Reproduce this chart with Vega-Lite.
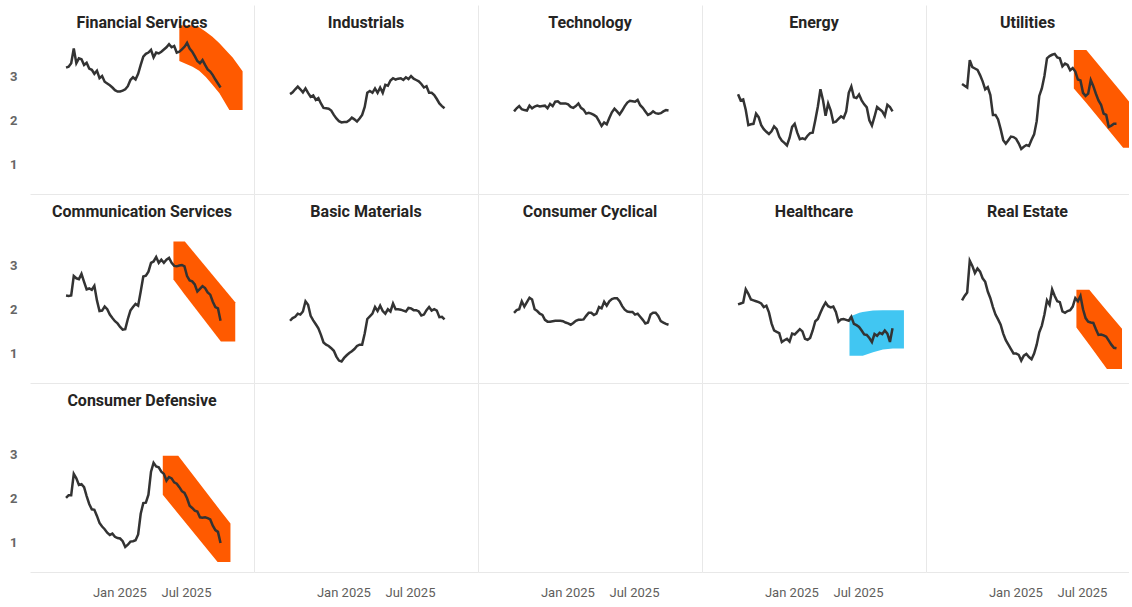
{
"$schema": "https://vega.github.io/schema/vega-lite/v6.json",
"background": "white",
"padding": {"left": 9, "top": 5, "right": 0, "bottom": 0},
"config": {
  "view": {"stroke": null},
  "concat": {"spacing": 0},
  "title": {"font": "Roboto", "fontSize": 16, "fontWeight": "bold", "color": "#252423", "anchor": "middle", "frame": "group", "offset": -26, "baseline": "bottom"},
  "axisX": {"labels": false, "ticks": false, "grid": false, "domainColor": "#E8E8E8", "labelFont": "Roboto", "labelFontSize": 13, "labelColor": "#605E5C", "labelPadding": 14},
  "axisY": {"labels": false, "ticks": false, "grid": false, "domainColor": "#E8E8E8", "labelFont": "Roboto", "labelFontSize": 13, "labelFontWeight": "bold", "labelColor": "#666666", "labelPadding": 13}
},
"datasets": {
"bands": [
{"sector":"Financial Services","date":"2025-06-13","low":3.34,"high":4.15},
{"sector":"Financial Services","date":"2025-07-19","low":3.21,"high":4.14},
{"sector":"Financial Services","date":"2025-08-06","low":3.12,"high":4.10},
{"sector":"Financial Services","date":"2025-08-24","low":2.98,"high":4.00},
{"sector":"Financial Services","date":"2025-09-11","low":2.80,"high":3.89},
{"sector":"Financial Services","date":"2025-09-30","low":2.61,"high":3.74},
{"sector":"Financial Services","date":"2025-10-27","low":2.23,"high":3.50},
{"sector":"Financial Services","date":"2025-11-05","low":2.23,"high":3.42},
{"sector":"Financial Services","date":"2025-12-02","low":2.23,"high":3.11},
{"sector":"Utilities","date":"2025-06-09","low":2.72,"high":3.59},
{"sector":"Utilities","date":"2025-07-13","low":2.39,"high":3.59},
{"sector":"Utilities","date":"2025-10-21","low":1.38,"high":2.59},
{"sector":"Utilities","date":"2025-11-24","low":1.38,"high":2.24},
{"sector":"Communication Services","date":"2025-05-28","low":2.67,"high":3.53},
{"sector":"Communication Services","date":"2025-06-28","low":2.33,"high":3.53},
{"sector":"Communication Services","date":"2025-10-04","low":1.27,"high":2.55},
{"sector":"Communication Services","date":"2025-11-12","low":1.27,"high":2.16},
{"sector":"Healthcare","date":"2025-06-08","low":0.95,"high":1.83},
{"sector":"Healthcare","date":"2025-07-05","low":0.95,"high":1.92},
{"sector":"Healthcare","date":"2025-07-14","low":0.95,"high":1.94},
{"sector":"Healthcare","date":"2025-08-11","low":1.03,"high":1.97},
{"sector":"Healthcare","date":"2025-09-07","low":1.09,"high":1.98},
{"sector":"Healthcare","date":"2025-10-04","low":1.11,"high":1.98},
{"sector":"Healthcare","date":"2025-11-03","low":1.11,"high":1.98},
{"sector":"Real Estate","date":"2025-06-16","low":1.59,"high":2.44},
{"sector":"Real Estate","date":"2025-07-21","low":1.20,"high":2.44},
{"sector":"Real Estate","date":"2025-09-07","low":0.65,"high":1.96},
{"sector":"Real Estate","date":"2025-10-18","low":0.65,"high":1.56},
{"sector":"Consumer Defensive","date":"2025-04-29","low":2.08,"high":2.96},
{"sector":"Consumer Defensive","date":"2025-06-10","low":1.65,"high":2.96},
{"sector":"Consumer Defensive","date":"2025-09-25","low":0.56,"high":1.80},
{"sector":"Consumer Defensive","date":"2025-10-30","low":0.56,"high":1.43}
],
"series": [
{"sector":"Financial Services","date":"2024-08-09","value":3.19},
{"sector":"Financial Services","date":"2024-08-16","value":3.21},
{"sector":"Financial Services","date":"2024-08-23","value":3.29},
{"sector":"Financial Services","date":"2024-08-30","value":3.62},
{"sector":"Financial Services","date":"2024-09-06","value":3.29},
{"sector":"Financial Services","date":"2024-09-13","value":3.40},
{"sector":"Financial Services","date":"2024-09-20","value":3.38},
{"sector":"Financial Services","date":"2024-09-27","value":3.25},
{"sector":"Financial Services","date":"2024-10-04","value":3.30},
{"sector":"Financial Services","date":"2024-10-11","value":3.17},
{"sector":"Financial Services","date":"2024-10-18","value":3.14},
{"sector":"Financial Services","date":"2024-10-25","value":3.05},
{"sector":"Financial Services","date":"2024-11-01","value":3.12},
{"sector":"Financial Services","date":"2024-11-08","value":2.95},
{"sector":"Financial Services","date":"2024-11-15","value":3.00},
{"sector":"Financial Services","date":"2024-11-22","value":2.87},
{"sector":"Financial Services","date":"2024-11-29","value":2.83},
{"sector":"Financial Services","date":"2024-12-06","value":2.79},
{"sector":"Financial Services","date":"2024-12-13","value":2.74},
{"sector":"Financial Services","date":"2024-12-20","value":2.68},
{"sector":"Financial Services","date":"2024-12-27","value":2.65},
{"sector":"Financial Services","date":"2025-01-03","value":2.65},
{"sector":"Financial Services","date":"2025-01-10","value":2.67},
{"sector":"Financial Services","date":"2025-01-17","value":2.70},
{"sector":"Financial Services","date":"2025-01-24","value":2.77},
{"sector":"Financial Services","date":"2025-01-31","value":2.91},
{"sector":"Financial Services","date":"2025-02-07","value":2.97},
{"sector":"Financial Services","date":"2025-02-14","value":2.92},
{"sector":"Financial Services","date":"2025-02-21","value":3.05},
{"sector":"Financial Services","date":"2025-02-28","value":3.25},
{"sector":"Financial Services","date":"2025-03-07","value":3.44},
{"sector":"Financial Services","date":"2025-03-14","value":3.50},
{"sector":"Financial Services","date":"2025-03-21","value":3.53},
{"sector":"Financial Services","date":"2025-03-28","value":3.59},
{"sector":"Financial Services","date":"2025-04-04","value":3.42},
{"sector":"Financial Services","date":"2025-04-11","value":3.53},
{"sector":"Financial Services","date":"2025-04-18","value":3.51},
{"sector":"Financial Services","date":"2025-04-25","value":3.55},
{"sector":"Financial Services","date":"2025-05-02","value":3.60},
{"sector":"Financial Services","date":"2025-05-09","value":3.65},
{"sector":"Financial Services","date":"2025-05-16","value":3.72},
{"sector":"Financial Services","date":"2025-05-23","value":3.65},
{"sector":"Financial Services","date":"2025-05-30","value":3.68},
{"sector":"Financial Services","date":"2025-06-06","value":3.53},
{"sector":"Financial Services","date":"2025-06-13","value":3.55},
{"sector":"Financial Services","date":"2025-06-20","value":3.60},
{"sector":"Financial Services","date":"2025-06-27","value":3.66},
{"sector":"Financial Services","date":"2025-07-04","value":3.75},
{"sector":"Financial Services","date":"2025-07-11","value":3.62},
{"sector":"Financial Services","date":"2025-07-18","value":3.55},
{"sector":"Financial Services","date":"2025-07-25","value":3.45},
{"sector":"Financial Services","date":"2025-08-01","value":3.34},
{"sector":"Financial Services","date":"2025-08-08","value":3.29},
{"sector":"Financial Services","date":"2025-08-15","value":3.36},
{"sector":"Financial Services","date":"2025-08-22","value":3.25},
{"sector":"Financial Services","date":"2025-08-29","value":3.15},
{"sector":"Financial Services","date":"2025-09-05","value":3.10},
{"sector":"Financial Services","date":"2025-09-12","value":3.02},
{"sector":"Financial Services","date":"2025-09-19","value":2.92},
{"sector":"Financial Services","date":"2025-09-26","value":2.83},
{"sector":"Financial Services","date":"2025-10-03","value":2.74},
{"sector":"Industrials","date":"2024-08-09","value":2.59},
{"sector":"Industrials","date":"2024-08-16","value":2.63},
{"sector":"Industrials","date":"2024-08-23","value":2.70},
{"sector":"Industrials","date":"2024-08-30","value":2.76},
{"sector":"Industrials","date":"2024-09-06","value":2.70},
{"sector":"Industrials","date":"2024-09-13","value":2.63},
{"sector":"Industrials","date":"2024-09-20","value":2.72},
{"sector":"Industrials","date":"2024-09-27","value":2.62},
{"sector":"Industrials","date":"2024-10-04","value":2.53},
{"sector":"Industrials","date":"2024-10-11","value":2.56},
{"sector":"Industrials","date":"2024-10-18","value":2.46},
{"sector":"Industrials","date":"2024-10-25","value":2.50},
{"sector":"Industrials","date":"2024-11-01","value":2.38},
{"sector":"Industrials","date":"2024-11-08","value":2.28},
{"sector":"Industrials","date":"2024-11-15","value":2.27},
{"sector":"Industrials","date":"2024-11-22","value":2.26},
{"sector":"Industrials","date":"2024-11-29","value":2.22},
{"sector":"Industrials","date":"2024-12-06","value":2.12},
{"sector":"Industrials","date":"2024-12-13","value":2.04},
{"sector":"Industrials","date":"2024-12-20","value":1.98},
{"sector":"Industrials","date":"2024-12-27","value":1.95},
{"sector":"Industrials","date":"2025-01-03","value":1.96},
{"sector":"Industrials","date":"2025-01-10","value":1.96},
{"sector":"Industrials","date":"2025-01-17","value":2.00},
{"sector":"Industrials","date":"2025-01-24","value":2.06},
{"sector":"Industrials","date":"2025-01-31","value":2.02},
{"sector":"Industrials","date":"2025-02-07","value":1.97},
{"sector":"Industrials","date":"2025-02-14","value":2.04},
{"sector":"Industrials","date":"2025-02-21","value":2.12},
{"sector":"Industrials","date":"2025-02-28","value":2.30},
{"sector":"Industrials","date":"2025-03-07","value":2.62},
{"sector":"Industrials","date":"2025-03-14","value":2.66},
{"sector":"Industrials","date":"2025-03-21","value":2.62},
{"sector":"Industrials","date":"2025-03-28","value":2.72},
{"sector":"Industrials","date":"2025-04-04","value":2.62},
{"sector":"Industrials","date":"2025-04-11","value":2.74},
{"sector":"Industrials","date":"2025-04-18","value":2.62},
{"sector":"Industrials","date":"2025-04-25","value":2.80},
{"sector":"Industrials","date":"2025-05-02","value":2.78},
{"sector":"Industrials","date":"2025-05-09","value":2.90},
{"sector":"Industrials","date":"2025-05-16","value":2.95},
{"sector":"Industrials","date":"2025-05-23","value":2.92},
{"sector":"Industrials","date":"2025-05-30","value":2.94},
{"sector":"Industrials","date":"2025-06-06","value":2.95},
{"sector":"Industrials","date":"2025-06-13","value":2.91},
{"sector":"Industrials","date":"2025-06-20","value":2.97},
{"sector":"Industrials","date":"2025-06-27","value":2.93},
{"sector":"Industrials","date":"2025-07-04","value":3.00},
{"sector":"Industrials","date":"2025-07-11","value":2.94},
{"sector":"Industrials","date":"2025-07-18","value":2.91},
{"sector":"Industrials","date":"2025-07-25","value":2.88},
{"sector":"Industrials","date":"2025-08-01","value":2.82},
{"sector":"Industrials","date":"2025-08-08","value":2.74},
{"sector":"Industrials","date":"2025-08-15","value":2.77},
{"sector":"Industrials","date":"2025-08-22","value":2.62},
{"sector":"Industrials","date":"2025-08-29","value":2.62},
{"sector":"Industrials","date":"2025-09-05","value":2.57},
{"sector":"Industrials","date":"2025-09-12","value":2.48},
{"sector":"Industrials","date":"2025-09-19","value":2.38},
{"sector":"Industrials","date":"2025-09-26","value":2.32},
{"sector":"Industrials","date":"2025-10-03","value":2.27},
{"sector":"Technology","date":"2024-08-09","value":2.20},
{"sector":"Technology","date":"2024-08-16","value":2.27},
{"sector":"Technology","date":"2024-08-23","value":2.32},
{"sector":"Technology","date":"2024-08-30","value":2.25},
{"sector":"Technology","date":"2024-09-06","value":2.23},
{"sector":"Technology","date":"2024-09-13","value":2.22},
{"sector":"Technology","date":"2024-09-20","value":2.33},
{"sector":"Technology","date":"2024-09-27","value":2.27},
{"sector":"Technology","date":"2024-10-04","value":2.31},
{"sector":"Technology","date":"2024-10-11","value":2.33},
{"sector":"Technology","date":"2024-10-18","value":2.31},
{"sector":"Technology","date":"2024-10-25","value":2.32},
{"sector":"Technology","date":"2024-11-01","value":2.33},
{"sector":"Technology","date":"2024-11-08","value":2.27},
{"sector":"Technology","date":"2024-11-15","value":2.37},
{"sector":"Technology","date":"2024-11-22","value":2.32},
{"sector":"Technology","date":"2024-11-29","value":2.42},
{"sector":"Technology","date":"2024-12-06","value":2.43},
{"sector":"Technology","date":"2024-12-13","value":2.38},
{"sector":"Technology","date":"2024-12-20","value":2.38},
{"sector":"Technology","date":"2024-12-27","value":2.38},
{"sector":"Technology","date":"2025-01-03","value":2.36},
{"sector":"Technology","date":"2025-01-10","value":2.30},
{"sector":"Technology","date":"2025-01-17","value":2.28},
{"sector":"Technology","date":"2025-01-24","value":2.32},
{"sector":"Technology","date":"2025-01-31","value":2.38},
{"sector":"Technology","date":"2025-02-07","value":2.28},
{"sector":"Technology","date":"2025-02-14","value":2.24},
{"sector":"Technology","date":"2025-02-21","value":2.15},
{"sector":"Technology","date":"2025-02-28","value":2.17},
{"sector":"Technology","date":"2025-03-07","value":2.15},
{"sector":"Technology","date":"2025-03-14","value":2.12},
{"sector":"Technology","date":"2025-03-21","value":2.08},
{"sector":"Technology","date":"2025-03-28","value":1.98},
{"sector":"Technology","date":"2025-04-04","value":1.87},
{"sector":"Technology","date":"2025-04-11","value":1.95},
{"sector":"Technology","date":"2025-04-18","value":1.91},
{"sector":"Technology","date":"2025-04-25","value":2.05},
{"sector":"Technology","date":"2025-05-02","value":2.18},
{"sector":"Technology","date":"2025-05-09","value":2.26},
{"sector":"Technology","date":"2025-05-16","value":2.20},
{"sector":"Technology","date":"2025-05-23","value":2.13},
{"sector":"Technology","date":"2025-05-30","value":2.22},
{"sector":"Technology","date":"2025-06-06","value":2.32},
{"sector":"Technology","date":"2025-06-13","value":2.40},
{"sector":"Technology","date":"2025-06-20","value":2.44},
{"sector":"Technology","date":"2025-06-27","value":2.43},
{"sector":"Technology","date":"2025-07-04","value":2.42},
{"sector":"Technology","date":"2025-07-11","value":2.46},
{"sector":"Technology","date":"2025-07-18","value":2.34},
{"sector":"Technology","date":"2025-07-25","value":2.28},
{"sector":"Technology","date":"2025-08-01","value":2.20},
{"sector":"Technology","date":"2025-08-08","value":2.12},
{"sector":"Technology","date":"2025-08-15","value":2.15},
{"sector":"Technology","date":"2025-08-22","value":2.20},
{"sector":"Technology","date":"2025-08-29","value":2.16},
{"sector":"Technology","date":"2025-09-05","value":2.15},
{"sector":"Technology","date":"2025-09-12","value":2.16},
{"sector":"Technology","date":"2025-09-19","value":2.20},
{"sector":"Technology","date":"2025-09-26","value":2.23},
{"sector":"Technology","date":"2025-10-03","value":2.22},
{"sector":"Energy","date":"2024-08-09","value":2.59},
{"sector":"Energy","date":"2024-08-16","value":2.45},
{"sector":"Energy","date":"2024-08-23","value":2.47},
{"sector":"Energy","date":"2024-08-30","value":2.23},
{"sector":"Energy","date":"2024-09-06","value":1.89},
{"sector":"Energy","date":"2024-09-13","value":1.91},
{"sector":"Energy","date":"2024-09-20","value":1.92},
{"sector":"Energy","date":"2024-09-27","value":2.15},
{"sector":"Energy","date":"2024-10-04","value":2.07},
{"sector":"Energy","date":"2024-10-11","value":1.89},
{"sector":"Energy","date":"2024-10-18","value":1.80},
{"sector":"Energy","date":"2024-10-25","value":1.74},
{"sector":"Energy","date":"2024-11-01","value":1.69},
{"sector":"Energy","date":"2024-11-08","value":1.75},
{"sector":"Energy","date":"2024-11-15","value":1.86},
{"sector":"Energy","date":"2024-11-22","value":1.80},
{"sector":"Energy","date":"2024-11-29","value":1.63},
{"sector":"Energy","date":"2024-12-06","value":1.54},
{"sector":"Energy","date":"2024-12-13","value":1.49},
{"sector":"Energy","date":"2024-12-20","value":1.43},
{"sector":"Energy","date":"2024-12-27","value":1.60},
{"sector":"Energy","date":"2025-01-03","value":1.85},
{"sector":"Energy","date":"2025-01-10","value":1.92},
{"sector":"Energy","date":"2025-01-17","value":1.72},
{"sector":"Energy","date":"2025-01-24","value":1.57},
{"sector":"Energy","date":"2025-01-31","value":1.59},
{"sector":"Energy","date":"2025-02-07","value":1.57},
{"sector":"Energy","date":"2025-02-14","value":1.65},
{"sector":"Energy","date":"2025-02-21","value":1.71},
{"sector":"Energy","date":"2025-02-28","value":1.72},
{"sector":"Energy","date":"2025-03-07","value":2.00},
{"sector":"Energy","date":"2025-03-14","value":2.31},
{"sector":"Energy","date":"2025-03-21","value":2.70},
{"sector":"Energy","date":"2025-03-28","value":2.45},
{"sector":"Energy","date":"2025-04-04","value":2.10},
{"sector":"Energy","date":"2025-04-11","value":2.38},
{"sector":"Energy","date":"2025-04-18","value":2.22},
{"sector":"Energy","date":"2025-04-25","value":1.95},
{"sector":"Energy","date":"2025-05-02","value":1.97},
{"sector":"Energy","date":"2025-05-09","value":2.03},
{"sector":"Energy","date":"2025-05-16","value":2.09},
{"sector":"Energy","date":"2025-05-23","value":2.05},
{"sector":"Energy","date":"2025-05-30","value":2.20},
{"sector":"Energy","date":"2025-06-06","value":2.62},
{"sector":"Energy","date":"2025-06-13","value":2.76},
{"sector":"Energy","date":"2025-06-20","value":2.52},
{"sector":"Energy","date":"2025-06-27","value":2.50},
{"sector":"Energy","date":"2025-07-04","value":2.58},
{"sector":"Energy","date":"2025-07-11","value":2.45},
{"sector":"Energy","date":"2025-07-18","value":2.36},
{"sector":"Energy","date":"2025-07-25","value":2.29},
{"sector":"Energy","date":"2025-08-01","value":2.00},
{"sector":"Energy","date":"2025-08-08","value":1.88},
{"sector":"Energy","date":"2025-08-15","value":2.08},
{"sector":"Energy","date":"2025-08-22","value":2.30},
{"sector":"Energy","date":"2025-08-29","value":2.25},
{"sector":"Energy","date":"2025-09-05","value":2.20},
{"sector":"Energy","date":"2025-09-12","value":2.10},
{"sector":"Energy","date":"2025-09-19","value":2.35},
{"sector":"Energy","date":"2025-09-26","value":2.30},
{"sector":"Energy","date":"2025-10-03","value":2.20},
{"sector":"Utilities","date":"2024-08-09","value":2.82},
{"sector":"Utilities","date":"2024-08-16","value":2.78},
{"sector":"Utilities","date":"2024-08-23","value":2.74},
{"sector":"Utilities","date":"2024-08-30","value":3.36},
{"sector":"Utilities","date":"2024-09-06","value":3.20},
{"sector":"Utilities","date":"2024-09-13","value":3.17},
{"sector":"Utilities","date":"2024-09-20","value":3.14},
{"sector":"Utilities","date":"2024-09-27","value":3.02},
{"sector":"Utilities","date":"2024-10-04","value":2.88},
{"sector":"Utilities","date":"2024-10-11","value":2.70},
{"sector":"Utilities","date":"2024-10-18","value":2.75},
{"sector":"Utilities","date":"2024-10-25","value":2.57},
{"sector":"Utilities","date":"2024-11-01","value":2.12},
{"sector":"Utilities","date":"2024-11-08","value":2.12},
{"sector":"Utilities","date":"2024-11-15","value":2.02},
{"sector":"Utilities","date":"2024-11-22","value":1.80},
{"sector":"Utilities","date":"2024-11-29","value":1.55},
{"sector":"Utilities","date":"2024-12-06","value":1.47},
{"sector":"Utilities","date":"2024-12-13","value":1.55},
{"sector":"Utilities","date":"2024-12-20","value":1.63},
{"sector":"Utilities","date":"2024-12-27","value":1.62},
{"sector":"Utilities","date":"2025-01-03","value":1.58},
{"sector":"Utilities","date":"2025-01-10","value":1.48},
{"sector":"Utilities","date":"2025-01-17","value":1.35},
{"sector":"Utilities","date":"2025-01-24","value":1.40},
{"sector":"Utilities","date":"2025-01-31","value":1.44},
{"sector":"Utilities","date":"2025-02-07","value":1.42},
{"sector":"Utilities","date":"2025-02-14","value":1.56},
{"sector":"Utilities","date":"2025-02-21","value":1.68},
{"sector":"Utilities","date":"2025-02-28","value":1.98},
{"sector":"Utilities","date":"2025-03-07","value":2.55},
{"sector":"Utilities","date":"2025-03-14","value":2.72},
{"sector":"Utilities","date":"2025-03-21","value":3.00},
{"sector":"Utilities","date":"2025-03-28","value":3.40},
{"sector":"Utilities","date":"2025-04-04","value":3.45},
{"sector":"Utilities","date":"2025-04-11","value":3.48},
{"sector":"Utilities","date":"2025-04-18","value":3.50},
{"sector":"Utilities","date":"2025-04-25","value":3.42},
{"sector":"Utilities","date":"2025-05-02","value":3.40},
{"sector":"Utilities","date":"2025-05-09","value":3.22},
{"sector":"Utilities","date":"2025-05-16","value":3.28},
{"sector":"Utilities","date":"2025-05-23","value":3.25},
{"sector":"Utilities","date":"2025-05-30","value":3.13},
{"sector":"Utilities","date":"2025-06-06","value":3.18},
{"sector":"Utilities","date":"2025-06-13","value":3.10},
{"sector":"Utilities","date":"2025-06-20","value":2.92},
{"sector":"Utilities","date":"2025-06-27","value":2.90},
{"sector":"Utilities","date":"2025-07-04","value":2.62},
{"sector":"Utilities","date":"2025-07-11","value":2.55},
{"sector":"Utilities","date":"2025-07-18","value":2.60},
{"sector":"Utilities","date":"2025-07-25","value":2.91},
{"sector":"Utilities","date":"2025-08-01","value":2.77},
{"sector":"Utilities","date":"2025-08-08","value":2.60},
{"sector":"Utilities","date":"2025-08-15","value":2.45},
{"sector":"Utilities","date":"2025-08-22","value":2.35},
{"sector":"Utilities","date":"2025-08-29","value":2.15},
{"sector":"Utilities","date":"2025-09-05","value":2.12},
{"sector":"Utilities","date":"2025-09-12","value":1.85},
{"sector":"Utilities","date":"2025-09-19","value":1.88},
{"sector":"Utilities","date":"2025-09-26","value":1.92},
{"sector":"Utilities","date":"2025-10-03","value":1.92},
{"sector":"Communication Services","date":"2024-08-09","value":2.31},
{"sector":"Communication Services","date":"2024-08-16","value":2.30},
{"sector":"Communication Services","date":"2024-08-23","value":2.31},
{"sector":"Communication Services","date":"2024-08-30","value":2.75},
{"sector":"Communication Services","date":"2024-09-06","value":2.70},
{"sector":"Communication Services","date":"2024-09-13","value":2.68},
{"sector":"Communication Services","date":"2024-09-20","value":2.80},
{"sector":"Communication Services","date":"2024-09-27","value":2.62},
{"sector":"Communication Services","date":"2024-10-04","value":2.45},
{"sector":"Communication Services","date":"2024-10-11","value":2.47},
{"sector":"Communication Services","date":"2024-10-18","value":2.44},
{"sector":"Communication Services","date":"2024-10-25","value":2.53},
{"sector":"Communication Services","date":"2024-11-01","value":2.20},
{"sector":"Communication Services","date":"2024-11-08","value":1.96},
{"sector":"Communication Services","date":"2024-11-15","value":1.97},
{"sector":"Communication Services","date":"2024-11-22","value":2.06},
{"sector":"Communication Services","date":"2024-11-29","value":2.00},
{"sector":"Communication Services","date":"2024-12-06","value":1.88},
{"sector":"Communication Services","date":"2024-12-13","value":1.80},
{"sector":"Communication Services","date":"2024-12-20","value":1.73},
{"sector":"Communication Services","date":"2024-12-27","value":1.68},
{"sector":"Communication Services","date":"2025-01-03","value":1.60},
{"sector":"Communication Services","date":"2025-01-10","value":1.54},
{"sector":"Communication Services","date":"2025-01-17","value":1.55},
{"sector":"Communication Services","date":"2025-01-24","value":1.78},
{"sector":"Communication Services","date":"2025-01-31","value":1.97},
{"sector":"Communication Services","date":"2025-02-07","value":2.05},
{"sector":"Communication Services","date":"2025-02-14","value":2.12},
{"sector":"Communication Services","date":"2025-02-21","value":2.08},
{"sector":"Communication Services","date":"2025-02-28","value":2.40},
{"sector":"Communication Services","date":"2025-03-07","value":2.74},
{"sector":"Communication Services","date":"2025-03-14","value":2.76},
{"sector":"Communication Services","date":"2025-03-21","value":2.85},
{"sector":"Communication Services","date":"2025-03-28","value":3.05},
{"sector":"Communication Services","date":"2025-04-04","value":3.08},
{"sector":"Communication Services","date":"2025-04-11","value":3.18},
{"sector":"Communication Services","date":"2025-04-18","value":3.05},
{"sector":"Communication Services","date":"2025-04-25","value":3.12},
{"sector":"Communication Services","date":"2025-05-02","value":3.05},
{"sector":"Communication Services","date":"2025-05-09","value":3.12},
{"sector":"Communication Services","date":"2025-05-16","value":3.16},
{"sector":"Communication Services","date":"2025-05-23","value":3.05},
{"sector":"Communication Services","date":"2025-05-30","value":2.98},
{"sector":"Communication Services","date":"2025-06-06","value":2.97},
{"sector":"Communication Services","date":"2025-06-13","value":2.99},
{"sector":"Communication Services","date":"2025-06-20","value":3.00},
{"sector":"Communication Services","date":"2025-06-27","value":2.97},
{"sector":"Communication Services","date":"2025-07-04","value":2.75},
{"sector":"Communication Services","date":"2025-07-11","value":2.65},
{"sector":"Communication Services","date":"2025-07-18","value":2.63},
{"sector":"Communication Services","date":"2025-07-25","value":2.56},
{"sector":"Communication Services","date":"2025-08-01","value":2.40},
{"sector":"Communication Services","date":"2025-08-08","value":2.46},
{"sector":"Communication Services","date":"2025-08-15","value":2.52},
{"sector":"Communication Services","date":"2025-08-22","value":2.48},
{"sector":"Communication Services","date":"2025-08-29","value":2.38},
{"sector":"Communication Services","date":"2025-09-05","value":2.33},
{"sector":"Communication Services","date":"2025-09-12","value":2.17},
{"sector":"Communication Services","date":"2025-09-19","value":2.05},
{"sector":"Communication Services","date":"2025-09-26","value":2.02},
{"sector":"Communication Services","date":"2025-10-03","value":1.74},
{"sector":"Basic Materials","date":"2024-08-09","value":1.74},
{"sector":"Basic Materials","date":"2024-08-16","value":1.80},
{"sector":"Basic Materials","date":"2024-08-23","value":1.83},
{"sector":"Basic Materials","date":"2024-08-30","value":1.90},
{"sector":"Basic Materials","date":"2024-09-06","value":1.88},
{"sector":"Basic Materials","date":"2024-09-13","value":1.95},
{"sector":"Basic Materials","date":"2024-09-20","value":2.18},
{"sector":"Basic Materials","date":"2024-09-27","value":2.10},
{"sector":"Basic Materials","date":"2024-10-04","value":1.85},
{"sector":"Basic Materials","date":"2024-10-11","value":1.75},
{"sector":"Basic Materials","date":"2024-10-18","value":1.66},
{"sector":"Basic Materials","date":"2024-10-25","value":1.57},
{"sector":"Basic Materials","date":"2024-11-01","value":1.42},
{"sector":"Basic Materials","date":"2024-11-08","value":1.25},
{"sector":"Basic Materials","date":"2024-11-15","value":1.20},
{"sector":"Basic Materials","date":"2024-11-22","value":1.17},
{"sector":"Basic Materials","date":"2024-11-29","value":1.12},
{"sector":"Basic Materials","date":"2024-12-06","value":1.06},
{"sector":"Basic Materials","date":"2024-12-13","value":0.93},
{"sector":"Basic Materials","date":"2024-12-20","value":0.84},
{"sector":"Basic Materials","date":"2024-12-27","value":0.82},
{"sector":"Basic Materials","date":"2025-01-03","value":0.90},
{"sector":"Basic Materials","date":"2025-01-10","value":0.96},
{"sector":"Basic Materials","date":"2025-01-17","value":1.01},
{"sector":"Basic Materials","date":"2025-01-24","value":1.05},
{"sector":"Basic Materials","date":"2025-01-31","value":1.10},
{"sector":"Basic Materials","date":"2025-02-07","value":1.17},
{"sector":"Basic Materials","date":"2025-02-14","value":1.20},
{"sector":"Basic Materials","date":"2025-02-21","value":1.20},
{"sector":"Basic Materials","date":"2025-02-28","value":1.45},
{"sector":"Basic Materials","date":"2025-03-07","value":1.78},
{"sector":"Basic Materials","date":"2025-03-14","value":1.84},
{"sector":"Basic Materials","date":"2025-03-21","value":1.90},
{"sector":"Basic Materials","date":"2025-03-28","value":2.05},
{"sector":"Basic Materials","date":"2025-04-04","value":1.96},
{"sector":"Basic Materials","date":"2025-04-11","value":2.08},
{"sector":"Basic Materials","date":"2025-04-18","value":1.96},
{"sector":"Basic Materials","date":"2025-04-25","value":1.90},
{"sector":"Basic Materials","date":"2025-05-02","value":2.00},
{"sector":"Basic Materials","date":"2025-05-09","value":1.95},
{"sector":"Basic Materials","date":"2025-05-16","value":2.13},
{"sector":"Basic Materials","date":"2025-05-23","value":2.00},
{"sector":"Basic Materials","date":"2025-05-30","value":2.00},
{"sector":"Basic Materials","date":"2025-06-06","value":1.99},
{"sector":"Basic Materials","date":"2025-06-13","value":1.97},
{"sector":"Basic Materials","date":"2025-06-20","value":1.95},
{"sector":"Basic Materials","date":"2025-06-27","value":2.03},
{"sector":"Basic Materials","date":"2025-07-04","value":2.02},
{"sector":"Basic Materials","date":"2025-07-11","value":1.98},
{"sector":"Basic Materials","date":"2025-07-18","value":1.98},
{"sector":"Basic Materials","date":"2025-07-25","value":1.95},
{"sector":"Basic Materials","date":"2025-08-01","value":1.86},
{"sector":"Basic Materials","date":"2025-08-08","value":1.88},
{"sector":"Basic Materials","date":"2025-08-15","value":1.98},
{"sector":"Basic Materials","date":"2025-08-22","value":2.05},
{"sector":"Basic Materials","date":"2025-08-29","value":1.97},
{"sector":"Basic Materials","date":"2025-09-05","value":2.00},
{"sector":"Basic Materials","date":"2025-09-12","value":1.97},
{"sector":"Basic Materials","date":"2025-09-19","value":1.82},
{"sector":"Basic Materials","date":"2025-09-26","value":1.83},
{"sector":"Basic Materials","date":"2025-10-03","value":1.77},
{"sector":"Consumer Cyclical","date":"2024-08-09","value":1.92},
{"sector":"Consumer Cyclical","date":"2024-08-16","value":1.98},
{"sector":"Consumer Cyclical","date":"2024-08-23","value":2.00},
{"sector":"Consumer Cyclical","date":"2024-08-30","value":2.18},
{"sector":"Consumer Cyclical","date":"2024-09-06","value":2.06},
{"sector":"Consumer Cyclical","date":"2024-09-13","value":2.16},
{"sector":"Consumer Cyclical","date":"2024-09-20","value":2.26},
{"sector":"Consumer Cyclical","date":"2024-09-27","value":2.22},
{"sector":"Consumer Cyclical","date":"2024-10-04","value":2.00},
{"sector":"Consumer Cyclical","date":"2024-10-11","value":1.96},
{"sector":"Consumer Cyclical","date":"2024-10-18","value":1.90},
{"sector":"Consumer Cyclical","date":"2024-10-25","value":1.87},
{"sector":"Consumer Cyclical","date":"2024-11-01","value":1.76},
{"sector":"Consumer Cyclical","date":"2024-11-08","value":1.72},
{"sector":"Consumer Cyclical","date":"2024-11-15","value":1.72},
{"sector":"Consumer Cyclical","date":"2024-11-22","value":1.73},
{"sector":"Consumer Cyclical","date":"2024-11-29","value":1.74},
{"sector":"Consumer Cyclical","date":"2024-12-06","value":1.74},
{"sector":"Consumer Cyclical","date":"2024-12-13","value":1.74},
{"sector":"Consumer Cyclical","date":"2024-12-20","value":1.73},
{"sector":"Consumer Cyclical","date":"2024-12-27","value":1.70},
{"sector":"Consumer Cyclical","date":"2025-01-03","value":1.68},
{"sector":"Consumer Cyclical","date":"2025-01-10","value":1.65},
{"sector":"Consumer Cyclical","date":"2025-01-17","value":1.69},
{"sector":"Consumer Cyclical","date":"2025-01-24","value":1.74},
{"sector":"Consumer Cyclical","date":"2025-01-31","value":1.76},
{"sector":"Consumer Cyclical","date":"2025-02-07","value":1.76},
{"sector":"Consumer Cyclical","date":"2025-02-14","value":1.77},
{"sector":"Consumer Cyclical","date":"2025-02-21","value":1.85},
{"sector":"Consumer Cyclical","date":"2025-02-28","value":1.92},
{"sector":"Consumer Cyclical","date":"2025-03-07","value":1.92},
{"sector":"Consumer Cyclical","date":"2025-03-14","value":1.87},
{"sector":"Consumer Cyclical","date":"2025-03-21","value":1.90},
{"sector":"Consumer Cyclical","date":"2025-03-28","value":2.05},
{"sector":"Consumer Cyclical","date":"2025-04-04","value":2.02},
{"sector":"Consumer Cyclical","date":"2025-04-11","value":2.17},
{"sector":"Consumer Cyclical","date":"2025-04-18","value":2.08},
{"sector":"Consumer Cyclical","date":"2025-04-25","value":2.18},
{"sector":"Consumer Cyclical","date":"2025-05-02","value":2.23},
{"sector":"Consumer Cyclical","date":"2025-05-09","value":2.25},
{"sector":"Consumer Cyclical","date":"2025-05-16","value":2.25},
{"sector":"Consumer Cyclical","date":"2025-05-23","value":2.18},
{"sector":"Consumer Cyclical","date":"2025-05-30","value":2.07},
{"sector":"Consumer Cyclical","date":"2025-06-06","value":1.99},
{"sector":"Consumer Cyclical","date":"2025-06-13","value":1.95},
{"sector":"Consumer Cyclical","date":"2025-06-20","value":1.94},
{"sector":"Consumer Cyclical","date":"2025-06-27","value":1.94},
{"sector":"Consumer Cyclical","date":"2025-07-04","value":1.88},
{"sector":"Consumer Cyclical","date":"2025-07-11","value":1.90},
{"sector":"Consumer Cyclical","date":"2025-07-18","value":1.83},
{"sector":"Consumer Cyclical","date":"2025-07-25","value":1.76},
{"sector":"Consumer Cyclical","date":"2025-08-01","value":1.68},
{"sector":"Consumer Cyclical","date":"2025-08-08","value":1.70},
{"sector":"Consumer Cyclical","date":"2025-08-15","value":1.88},
{"sector":"Consumer Cyclical","date":"2025-08-22","value":1.92},
{"sector":"Consumer Cyclical","date":"2025-08-29","value":1.92},
{"sector":"Consumer Cyclical","date":"2025-09-05","value":1.85},
{"sector":"Consumer Cyclical","date":"2025-09-12","value":1.73},
{"sector":"Consumer Cyclical","date":"2025-09-19","value":1.70},
{"sector":"Consumer Cyclical","date":"2025-09-26","value":1.67},
{"sector":"Consumer Cyclical","date":"2025-10-03","value":1.65},
{"sector":"Healthcare","date":"2024-08-09","value":2.11},
{"sector":"Healthcare","date":"2024-08-16","value":2.13},
{"sector":"Healthcare","date":"2024-08-23","value":2.15},
{"sector":"Healthcare","date":"2024-08-30","value":2.45},
{"sector":"Healthcare","date":"2024-09-06","value":2.35},
{"sector":"Healthcare","date":"2024-09-13","value":2.22},
{"sector":"Healthcare","date":"2024-09-20","value":2.20},
{"sector":"Healthcare","date":"2024-09-27","value":2.18},
{"sector":"Healthcare","date":"2024-10-04","value":2.16},
{"sector":"Healthcare","date":"2024-10-11","value":2.13},
{"sector":"Healthcare","date":"2024-10-18","value":2.05},
{"sector":"Healthcare","date":"2024-10-25","value":2.08},
{"sector":"Healthcare","date":"2024-11-01","value":1.93},
{"sector":"Healthcare","date":"2024-11-08","value":1.68},
{"sector":"Healthcare","date":"2024-11-15","value":1.52},
{"sector":"Healthcare","date":"2024-11-22","value":1.49},
{"sector":"Healthcare","date":"2024-11-29","value":1.46},
{"sector":"Healthcare","date":"2024-12-06","value":1.26},
{"sector":"Healthcare","date":"2024-12-13","value":1.30},
{"sector":"Healthcare","date":"2024-12-20","value":1.33},
{"sector":"Healthcare","date":"2024-12-27","value":1.27},
{"sector":"Healthcare","date":"2025-01-03","value":1.45},
{"sector":"Healthcare","date":"2025-01-10","value":1.43},
{"sector":"Healthcare","date":"2025-01-17","value":1.49},
{"sector":"Healthcare","date":"2025-01-24","value":1.55},
{"sector":"Healthcare","date":"2025-01-31","value":1.50},
{"sector":"Healthcare","date":"2025-02-07","value":1.33},
{"sector":"Healthcare","date":"2025-02-14","value":1.31},
{"sector":"Healthcare","date":"2025-02-21","value":1.35},
{"sector":"Healthcare","date":"2025-02-28","value":1.52},
{"sector":"Healthcare","date":"2025-03-07","value":1.73},
{"sector":"Healthcare","date":"2025-03-14","value":1.78},
{"sector":"Healthcare","date":"2025-03-21","value":1.92},
{"sector":"Healthcare","date":"2025-03-28","value":2.05},
{"sector":"Healthcare","date":"2025-04-04","value":2.15},
{"sector":"Healthcare","date":"2025-04-11","value":2.07},
{"sector":"Healthcare","date":"2025-04-18","value":2.04},
{"sector":"Healthcare","date":"2025-04-25","value":2.06},
{"sector":"Healthcare","date":"2025-05-02","value":1.94},
{"sector":"Healthcare","date":"2025-05-09","value":1.72},
{"sector":"Healthcare","date":"2025-05-16","value":1.77},
{"sector":"Healthcare","date":"2025-05-23","value":1.78},
{"sector":"Healthcare","date":"2025-05-30","value":1.76},
{"sector":"Healthcare","date":"2025-06-06","value":1.74},
{"sector":"Healthcare","date":"2025-06-13","value":1.83},
{"sector":"Healthcare","date":"2025-06-20","value":1.67},
{"sector":"Healthcare","date":"2025-06-27","value":1.64},
{"sector":"Healthcare","date":"2025-07-04","value":1.60},
{"sector":"Healthcare","date":"2025-07-11","value":1.52},
{"sector":"Healthcare","date":"2025-07-18","value":1.43},
{"sector":"Healthcare","date":"2025-07-25","value":1.42},
{"sector":"Healthcare","date":"2025-08-01","value":1.35},
{"sector":"Healthcare","date":"2025-08-08","value":1.26},
{"sector":"Healthcare","date":"2025-08-15","value":1.44},
{"sector":"Healthcare","date":"2025-08-22","value":1.40},
{"sector":"Healthcare","date":"2025-08-29","value":1.47},
{"sector":"Healthcare","date":"2025-09-05","value":1.44},
{"sector":"Healthcare","date":"2025-09-12","value":1.52},
{"sector":"Healthcare","date":"2025-09-19","value":1.45},
{"sector":"Healthcare","date":"2025-09-26","value":1.26},
{"sector":"Healthcare","date":"2025-10-03","value":1.57},
{"sector":"Real Estate","date":"2024-08-09","value":2.20},
{"sector":"Real Estate","date":"2024-08-16","value":2.30},
{"sector":"Real Estate","date":"2024-08-23","value":2.38},
{"sector":"Real Estate","date":"2024-08-30","value":3.10},
{"sector":"Real Estate","date":"2024-09-06","value":2.98},
{"sector":"Real Estate","date":"2024-09-13","value":2.82},
{"sector":"Real Estate","date":"2024-09-20","value":2.92},
{"sector":"Real Estate","date":"2024-09-27","value":2.85},
{"sector":"Real Estate","date":"2024-10-04","value":2.70},
{"sector":"Real Estate","date":"2024-10-11","value":2.62},
{"sector":"Real Estate","date":"2024-10-18","value":2.40},
{"sector":"Real Estate","date":"2024-10-25","value":2.25},
{"sector":"Real Estate","date":"2024-11-01","value":2.05},
{"sector":"Real Estate","date":"2024-11-08","value":1.88},
{"sector":"Real Estate","date":"2024-11-15","value":1.77},
{"sector":"Real Estate","date":"2024-11-22","value":1.65},
{"sector":"Real Estate","date":"2024-11-29","value":1.45},
{"sector":"Real Estate","date":"2024-12-06","value":1.30},
{"sector":"Real Estate","date":"2024-12-13","value":1.20},
{"sector":"Real Estate","date":"2024-12-20","value":1.10},
{"sector":"Real Estate","date":"2024-12-27","value":1.00},
{"sector":"Real Estate","date":"2025-01-03","value":1.00},
{"sector":"Real Estate","date":"2025-01-10","value":0.97},
{"sector":"Real Estate","date":"2025-01-17","value":0.84},
{"sector":"Real Estate","date":"2025-01-24","value":0.95},
{"sector":"Real Estate","date":"2025-01-31","value":0.99},
{"sector":"Real Estate","date":"2025-02-07","value":0.92},
{"sector":"Real Estate","date":"2025-02-14","value":0.87},
{"sector":"Real Estate","date":"2025-02-21","value":1.00},
{"sector":"Real Estate","date":"2025-02-28","value":1.20},
{"sector":"Real Estate","date":"2025-03-07","value":1.48},
{"sector":"Real Estate","date":"2025-03-14","value":1.63},
{"sector":"Real Estate","date":"2025-03-21","value":1.88},
{"sector":"Real Estate","date":"2025-03-28","value":2.20},
{"sector":"Real Estate","date":"2025-04-04","value":2.10},
{"sector":"Real Estate","date":"2025-04-11","value":2.45},
{"sector":"Real Estate","date":"2025-04-18","value":2.30},
{"sector":"Real Estate","date":"2025-04-25","value":2.18},
{"sector":"Real Estate","date":"2025-05-02","value":2.16},
{"sector":"Real Estate","date":"2025-05-09","value":1.95},
{"sector":"Real Estate","date":"2025-05-16","value":1.92},
{"sector":"Real Estate","date":"2025-05-23","value":1.96},
{"sector":"Real Estate","date":"2025-05-30","value":1.98},
{"sector":"Real Estate","date":"2025-06-06","value":2.06},
{"sector":"Real Estate","date":"2025-06-13","value":2.25},
{"sector":"Real Estate","date":"2025-06-20","value":2.18},
{"sector":"Real Estate","date":"2025-06-27","value":2.30},
{"sector":"Real Estate","date":"2025-07-04","value":2.00},
{"sector":"Real Estate","date":"2025-07-11","value":1.80},
{"sector":"Real Estate","date":"2025-07-18","value":1.72},
{"sector":"Real Estate","date":"2025-07-25","value":1.70},
{"sector":"Real Estate","date":"2025-08-01","value":1.69},
{"sector":"Real Estate","date":"2025-08-08","value":1.55},
{"sector":"Real Estate","date":"2025-08-15","value":1.42},
{"sector":"Real Estate","date":"2025-08-22","value":1.43},
{"sector":"Real Estate","date":"2025-08-29","value":1.41},
{"sector":"Real Estate","date":"2025-09-05","value":1.38},
{"sector":"Real Estate","date":"2025-09-12","value":1.29},
{"sector":"Real Estate","date":"2025-09-19","value":1.20},
{"sector":"Real Estate","date":"2025-09-26","value":1.13},
{"sector":"Real Estate","date":"2025-10-03","value":1.12},
{"sector":"Consumer Defensive","date":"2024-08-09","value":2.01},
{"sector":"Consumer Defensive","date":"2024-08-16","value":2.07},
{"sector":"Consumer Defensive","date":"2024-08-23","value":2.07},
{"sector":"Consumer Defensive","date":"2024-08-30","value":2.55},
{"sector":"Consumer Defensive","date":"2024-09-06","value":2.45},
{"sector":"Consumer Defensive","date":"2024-09-13","value":2.30},
{"sector":"Consumer Defensive","date":"2024-09-20","value":2.32},
{"sector":"Consumer Defensive","date":"2024-09-27","value":2.25},
{"sector":"Consumer Defensive","date":"2024-10-04","value":2.05},
{"sector":"Consumer Defensive","date":"2024-10-11","value":1.87},
{"sector":"Consumer Defensive","date":"2024-10-18","value":1.75},
{"sector":"Consumer Defensive","date":"2024-10-25","value":1.74},
{"sector":"Consumer Defensive","date":"2024-11-01","value":1.60},
{"sector":"Consumer Defensive","date":"2024-11-08","value":1.44},
{"sector":"Consumer Defensive","date":"2024-11-15","value":1.36},
{"sector":"Consumer Defensive","date":"2024-11-22","value":1.30},
{"sector":"Consumer Defensive","date":"2024-11-29","value":1.22},
{"sector":"Consumer Defensive","date":"2024-12-06","value":1.17},
{"sector":"Consumer Defensive","date":"2024-12-13","value":1.20},
{"sector":"Consumer Defensive","date":"2024-12-20","value":1.13},
{"sector":"Consumer Defensive","date":"2024-12-27","value":1.10},
{"sector":"Consumer Defensive","date":"2025-01-03","value":1.09},
{"sector":"Consumer Defensive","date":"2025-01-10","value":1.03},
{"sector":"Consumer Defensive","date":"2025-01-17","value":0.90},
{"sector":"Consumer Defensive","date":"2025-01-24","value":0.95},
{"sector":"Consumer Defensive","date":"2025-01-31","value":1.02},
{"sector":"Consumer Defensive","date":"2025-02-07","value":1.03},
{"sector":"Consumer Defensive","date":"2025-02-14","value":1.05},
{"sector":"Consumer Defensive","date":"2025-02-21","value":1.18},
{"sector":"Consumer Defensive","date":"2025-02-28","value":1.65},
{"sector":"Consumer Defensive","date":"2025-03-07","value":1.89},
{"sector":"Consumer Defensive","date":"2025-03-14","value":1.90},
{"sector":"Consumer Defensive","date":"2025-03-21","value":2.08},
{"sector":"Consumer Defensive","date":"2025-03-28","value":2.60},
{"sector":"Consumer Defensive","date":"2025-04-04","value":2.80},
{"sector":"Consumer Defensive","date":"2025-04-11","value":2.72},
{"sector":"Consumer Defensive","date":"2025-04-18","value":2.70},
{"sector":"Consumer Defensive","date":"2025-04-25","value":2.60},
{"sector":"Consumer Defensive","date":"2025-05-02","value":2.55},
{"sector":"Consumer Defensive","date":"2025-05-09","value":2.40},
{"sector":"Consumer Defensive","date":"2025-05-16","value":2.48},
{"sector":"Consumer Defensive","date":"2025-05-23","value":2.45},
{"sector":"Consumer Defensive","date":"2025-05-30","value":2.36},
{"sector":"Consumer Defensive","date":"2025-06-06","value":2.33},
{"sector":"Consumer Defensive","date":"2025-06-13","value":2.25},
{"sector":"Consumer Defensive","date":"2025-06-20","value":2.16},
{"sector":"Consumer Defensive","date":"2025-06-27","value":2.12},
{"sector":"Consumer Defensive","date":"2025-07-04","value":2.00},
{"sector":"Consumer Defensive","date":"2025-07-11","value":1.83},
{"sector":"Consumer Defensive","date":"2025-07-18","value":1.78},
{"sector":"Consumer Defensive","date":"2025-07-25","value":1.72},
{"sector":"Consumer Defensive","date":"2025-08-01","value":1.70},
{"sector":"Consumer Defensive","date":"2025-08-08","value":1.57},
{"sector":"Consumer Defensive","date":"2025-08-15","value":1.56},
{"sector":"Consumer Defensive","date":"2025-08-22","value":1.57},
{"sector":"Consumer Defensive","date":"2025-08-29","value":1.55},
{"sector":"Consumer Defensive","date":"2025-09-05","value":1.52},
{"sector":"Consumer Defensive","date":"2025-09-12","value":1.38},
{"sector":"Consumer Defensive","date":"2025-09-19","value":1.28},
{"sector":"Consumer Defensive","date":"2025-09-26","value":1.24},
{"sector":"Consumer Defensive","date":"2025-10-03","value":0.99}
]
},
"vconcat": [
{"hconcat": [
 {"width": 224, "height": 189, "title": "Financial Services",
  "encoding": {"x": {"field": "date", "type": "temporal", "title": null, "scale": {"domain": [{"year":2024,"month":5,"date":3},{"year":2026,"month":1,"date":2}]}},
               "y": {"field": "value", "type": "quantitative", "title": null, "scale": {"domain": [0.333, 4.605], "nice": false, "zero": false}, "axis": {"labels": true, "domain": false, "values": [1,2,3]}}},
  "layer": [
   {"data": {"name": "bands"}, "transform": [{"filter": "datum.sector === 'Financial Services'"}], "mark": {"type": "area", "color": "#FF5A00", "opacity": 1},
    "encoding": {"y": {"field": "low", "type": "quantitative", "title": null, "scale": {"domain": [0.333, 4.605], "nice": false, "zero": false}, "axis": {"labels": true, "domain": false, "values": [1,2,3]}}, "y2": {"field": "high"}}},
   {"data": {"name": "series"}, "transform": [{"filter": "datum.sector === 'Financial Services'"}], "mark": {"type": "line", "color": "#333333", "strokeWidth": 2.5}}
  ]},
 {"width": 224, "height": 189, "title": "Industrials",
  "encoding": {"x": {"field": "date", "type": "temporal", "title": null, "scale": {"domain": [{"year":2024,"month":5,"date":3},{"year":2026,"month":1,"date":2}]}},
               "y": {"field": "value", "type": "quantitative", "title": null, "scale": {"domain": [0.333, 4.605], "nice": false, "zero": false}}},
  "layer": [
   {"data": {"name": "series"}, "transform": [{"filter": "datum.sector === 'Industrials'"}], "mark": {"type": "line", "color": "#333333", "strokeWidth": 2.5}}
  ]},
 {"width": 224, "height": 189, "title": "Technology",
  "encoding": {"x": {"field": "date", "type": "temporal", "title": null, "scale": {"domain": [{"year":2024,"month":5,"date":3},{"year":2026,"month":1,"date":2}]}},
               "y": {"field": "value", "type": "quantitative", "title": null, "scale": {"domain": [0.333, 4.605], "nice": false, "zero": false}}},
  "layer": [
   {"data": {"name": "series"}, "transform": [{"filter": "datum.sector === 'Technology'"}], "mark": {"type": "line", "color": "#333333", "strokeWidth": 2.5}}
  ]},
 {"width": 224, "height": 189, "title": "Energy",
  "encoding": {"x": {"field": "date", "type": "temporal", "title": null, "scale": {"domain": [{"year":2024,"month":5,"date":3},{"year":2026,"month":1,"date":2}]}},
               "y": {"field": "value", "type": "quantitative", "title": null, "scale": {"domain": [0.333, 4.605], "nice": false, "zero": false}}},
  "layer": [
   {"data": {"name": "series"}, "transform": [{"filter": "datum.sector === 'Energy'"}], "mark": {"type": "line", "color": "#333333", "strokeWidth": 2.5}}
  ]},
 {"width": 203, "height": 189, "title": "Utilities",
  "encoding": {"x": {"field": "date", "type": "temporal", "title": null, "scale": {"domain": [{"year":2024,"month":5,"date":3},{"year":2025,"month":11,"date":6}]}},
               "y": {"field": "value", "type": "quantitative", "title": null, "scale": {"domain": [0.333, 4.605], "nice": false, "zero": false}}},
  "layer": [
   {"data": {"name": "bands"}, "transform": [{"filter": "datum.sector === 'Utilities'"}], "mark": {"type": "area", "color": "#FF5A00", "opacity": 1, "clip": true},
    "encoding": {"y": {"field": "low", "type": "quantitative", "title": null, "scale": {"domain": [0.333, 4.605], "nice": false, "zero": false}}, "y2": {"field": "high"}}},
   {"data": {"name": "series"}, "transform": [{"filter": "datum.sector === 'Utilities'"}], "mark": {"type": "line", "color": "#333333", "strokeWidth": 2.5}}
  ]}
]},
{"hconcat": [
 {"width": 224, "height": 189, "title": "Communication Services",
  "encoding": {"x": {"field": "date", "type": "temporal", "title": null, "scale": {"domain": [{"year":2024,"month":5,"date":3},{"year":2026,"month":1,"date":2}]}},
               "y": {"field": "value", "type": "quantitative", "title": null, "scale": {"domain": [0.333, 4.605], "nice": false, "zero": false}, "axis": {"labels": true, "domain": false, "values": [1,2,3]}}},
  "layer": [
   {"data": {"name": "bands"}, "transform": [{"filter": "datum.sector === 'Communication Services'"}], "mark": {"type": "area", "color": "#FF5A00", "opacity": 1},
    "encoding": {"y": {"field": "low", "type": "quantitative", "title": null, "scale": {"domain": [0.333, 4.605], "nice": false, "zero": false}, "axis": {"labels": true, "domain": false, "values": [1,2,3]}}, "y2": {"field": "high"}}},
   {"data": {"name": "series"}, "transform": [{"filter": "datum.sector === 'Communication Services'"}], "mark": {"type": "line", "color": "#333333", "strokeWidth": 2.5}}
  ]},
 {"width": 224, "height": 189, "title": "Basic Materials",
  "encoding": {"x": {"field": "date", "type": "temporal", "title": null, "scale": {"domain": [{"year":2024,"month":5,"date":3},{"year":2026,"month":1,"date":2}]}},
               "y": {"field": "value", "type": "quantitative", "title": null, "scale": {"domain": [0.333, 4.605], "nice": false, "zero": false}}},
  "layer": [
   {"data": {"name": "series"}, "transform": [{"filter": "datum.sector === 'Basic Materials'"}], "mark": {"type": "line", "color": "#333333", "strokeWidth": 2.5}}
  ]},
 {"width": 224, "height": 189, "title": "Consumer Cyclical",
  "encoding": {"x": {"field": "date", "type": "temporal", "title": null, "scale": {"domain": [{"year":2024,"month":5,"date":3},{"year":2026,"month":1,"date":2}]}},
               "y": {"field": "value", "type": "quantitative", "title": null, "scale": {"domain": [0.333, 4.605], "nice": false, "zero": false}}},
  "layer": [
   {"data": {"name": "series"}, "transform": [{"filter": "datum.sector === 'Consumer Cyclical'"}], "mark": {"type": "line", "color": "#333333", "strokeWidth": 2.5}}
  ]},
 {"width": 224, "height": 189, "title": "Healthcare",
  "encoding": {"x": {"field": "date", "type": "temporal", "title": null, "scale": {"domain": [{"year":2024,"month":5,"date":3},{"year":2026,"month":1,"date":2}]}},
               "y": {"field": "value", "type": "quantitative", "title": null, "scale": {"domain": [0.333, 4.605], "nice": false, "zero": false}}},
  "layer": [
   {"data": {"name": "bands"}, "transform": [{"filter": "datum.sector === 'Healthcare'"}], "mark": {"type": "area", "color": "#41C6F2", "opacity": 1},
    "encoding": {"y": {"field": "low", "type": "quantitative", "title": null, "scale": {"domain": [0.333, 4.605], "nice": false, "zero": false}}, "y2": {"field": "high"}}},
   {"data": {"name": "series"}, "transform": [{"filter": "datum.sector === 'Healthcare'"}], "mark": {"type": "line", "color": "#333333", "strokeWidth": 2.5}}
  ]},
 {"width": 203, "height": 189, "title": "Real Estate",
  "encoding": {"x": {"field": "date", "type": "temporal", "title": null, "scale": {"domain": [{"year":2024,"month":5,"date":3},{"year":2025,"month":11,"date":6}]}},
               "y": {"field": "value", "type": "quantitative", "title": null, "scale": {"domain": [0.333, 4.605], "nice": false, "zero": false}}},
  "layer": [
   {"data": {"name": "bands"}, "transform": [{"filter": "datum.sector === 'Real Estate'"}], "mark": {"type": "area", "color": "#FF5A00", "opacity": 1, "clip": true},
    "encoding": {"y": {"field": "low", "type": "quantitative", "title": null, "scale": {"domain": [0.333, 4.605], "nice": false, "zero": false}}, "y2": {"field": "high"}}},
   {"data": {"name": "series"}, "transform": [{"filter": "datum.sector === 'Real Estate'"}], "mark": {"type": "line", "color": "#333333", "strokeWidth": 2.5}}
  ]}
]},
{"hconcat": [
 {"width": 224, "height": 189, "title": "Consumer Defensive",
  "encoding": {"x": {"field": "date", "type": "temporal", "title": null, "scale": {"domain": [{"year":2024,"month":5,"date":3},{"year":2026,"month":1,"date":2}]}, "axis": {"labels": true, "format": "%b %Y", "values": [{"year":2025,"month":1,"date":1},{"year":2025,"month":7,"date":1}]}},
               "y": {"field": "value", "type": "quantitative", "title": null, "scale": {"domain": [0.333, 4.605], "nice": false, "zero": false}, "axis": {"labels": true, "domain": false, "values": [1,2,3]}}},
  "layer": [
   {"data": {"name": "bands"}, "transform": [{"filter": "datum.sector === 'Consumer Defensive'"}], "mark": {"type": "area", "color": "#FF5A00", "opacity": 1},
    "encoding": {"y": {"field": "low", "type": "quantitative", "title": null, "scale": {"domain": [0.333, 4.605], "nice": false, "zero": false}, "axis": {"labels": true, "domain": false, "values": [1,2,3]}}, "y2": {"field": "high"}}},
   {"data": {"name": "series"}, "transform": [{"filter": "datum.sector === 'Consumer Defensive'"}], "mark": {"type": "line", "color": "#333333", "strokeWidth": 2.5}}
  ]},
 {"width": 224, "height": 189, "data": {"values": []}, "mark": "line",
  "encoding": {"x": {"field": "date", "type": "temporal", "title": null, "scale": {"domain": [{"year":2024,"month":5,"date":3},{"year":2026,"month":1,"date":2}]}, "axis": {"labels": true, "format": "%b %Y", "values": [{"year":2025,"month":1,"date":1},{"year":2025,"month":7,"date":1}]}},
               "y": {"field": "value", "type": "quantitative", "title": null, "scale": {"domain": [0.333, 4.605], "nice": false, "zero": false}}}},
 {"width": 224, "height": 189, "data": {"values": []}, "mark": "line",
  "encoding": {"x": {"field": "date", "type": "temporal", "title": null, "scale": {"domain": [{"year":2024,"month":5,"date":3},{"year":2026,"month":1,"date":2}]}, "axis": {"labels": true, "format": "%b %Y", "values": [{"year":2025,"month":1,"date":1},{"year":2025,"month":7,"date":1}]}},
               "y": {"field": "value", "type": "quantitative", "title": null, "scale": {"domain": [0.333, 4.605], "nice": false, "zero": false}}}},
 {"width": 224, "height": 189, "data": {"values": []}, "mark": "line",
  "encoding": {"x": {"field": "date", "type": "temporal", "title": null, "scale": {"domain": [{"year":2024,"month":5,"date":3},{"year":2026,"month":1,"date":2}]}, "axis": {"labels": true, "format": "%b %Y", "values": [{"year":2025,"month":1,"date":1},{"year":2025,"month":7,"date":1}]}},
               "y": {"field": "value", "type": "quantitative", "title": null, "scale": {"domain": [0.333, 4.605], "nice": false, "zero": false}}}},
 {"width": 203, "height": 189, "data": {"values": []}, "mark": "line",
  "encoding": {"x": {"field": "date", "type": "temporal", "title": null, "scale": {"domain": [{"year":2024,"month":5,"date":3},{"year":2025,"month":11,"date":6}]}, "axis": {"labels": true, "format": "%b %Y", "values": [{"year":2025,"month":1,"date":1},{"year":2025,"month":7,"date":1}]}},
               "y": {"field": "value", "type": "quantitative", "title": null, "scale": {"domain": [0.333, 4.605], "nice": false, "zero": false}}}}
]}
]
}
